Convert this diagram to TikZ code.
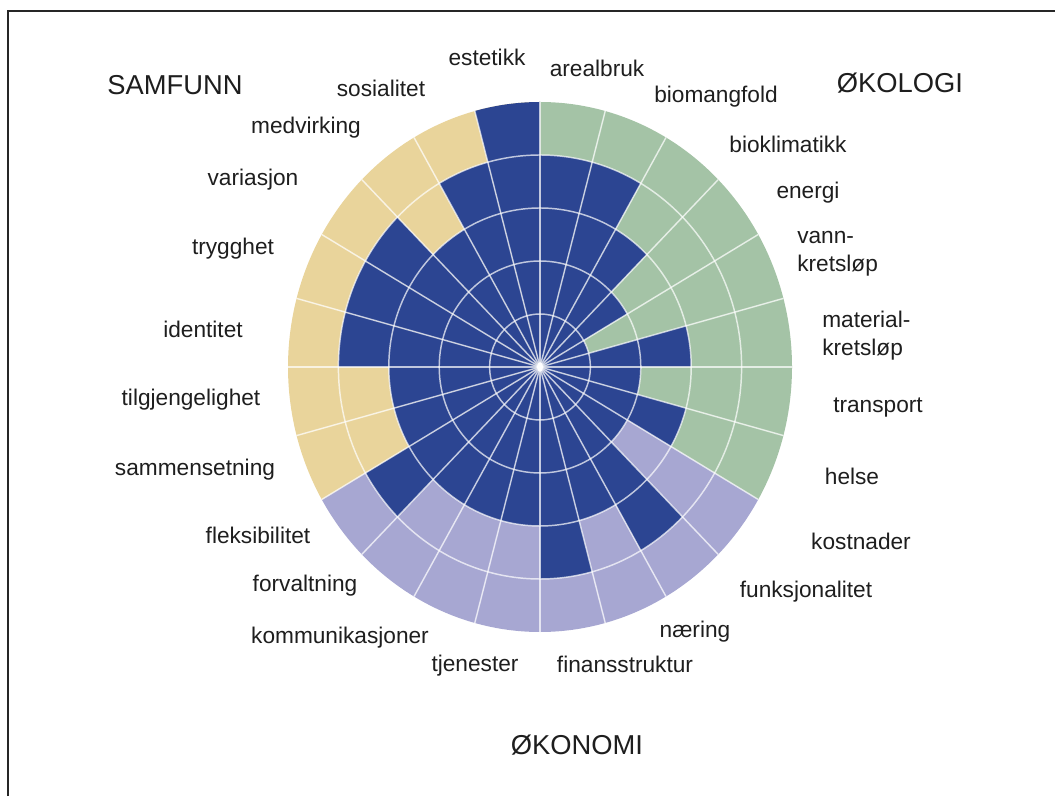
\documentclass[tikz,border=0pt]{standalone}
\usepackage{fontspec}
\setmainfont{Liberation Sans}
\definecolor{navy}{HTML}{2C4592}
\definecolor{sage}{HTML}{A4C3A6}
\definecolor{lav}{HTML}{A7A7D2}
\definecolor{sand}{HTML}{E9D49B}
\definecolor{ink}{HTML}{1E1E1E}
\begin{document}
\begin{tikzpicture}[x=0.75pt,y=0.75pt,
  lbl/.style={font=\fontsize{17}{21}\selectfont, text=ink, inner sep=0pt},
  ttl/.style={font=\fontsize{20.5}{24}\selectfont, text=ink, inner sep=0pt},
  gridline/.style={draw=white, draw opacity=0.7, line width=1.1pt}]
\useasboundingbox (0,0) rectangle (1055,796);
\draw[line width=1.6pt, black!85] (8,0) -- (8,785) -- (1055,785);
\begin{scope}[shift={(540,429)}, xscale=50.4, yscale=53]
  \foreach \lev [count=\k from 0] in {4,4,3,2,1,3,2,3, 2,4,3,4,3,3,3,4, 3,3,4,4,4,3,4,5} {
    \pgfmathsetmacro\aa{90-15*\k}
    \pgfmathsetmacro\ab{75-15*\k}
    \pgfmathtruncatemacro\cat{int(\k/8)}
    \ifcase\cat \def\bg{sage}\or\def\bg{lav}\or\def\bg{sand}\fi
    \fill[\bg] (0,0) -- (\aa:5) arc[start angle=\aa, end angle=\ab, radius=5] -- cycle;
    \fill[navy] (0,0) -- (\aa:\lev) arc[start angle=\aa, end angle=\ab, radius=\lev] -- cycle;
  }
  \foreach \r in {1,2,3,4} \draw[gridline] (0,0) circle[radius=\r];
  \foreach \a in {0,15,...,345} \draw[gridline] (0,0) -- (\a:5);
  \fill[white] (0,0) ellipse[x radius=0.06, y radius=0.09];
\end{scope}
\node[ttl] (samfunn) at (175,711) {SAMFUNN};
\node[ttl] (okologi) at (900,713) {ØKOLOGI};
\node[ttl] (okonomi) at (577,51) {ØKONOMI};
\node[lbl] (estetikk) at (487,739) {estetikk};
\node[lbl] (arealbruk) at (597,728) {arealbruk};
\node[lbl] (biomangfold) at (716,699) {biomangfold};
\node[lbl] (bioklimatikk) at (788,652) {bioklimatikk};
\node[lbl] (energi) at (808,603) {energi};
\node[lbl, anchor=west, align=left] (vann) at (797,542) {vann-\\kretsløp};
\node[lbl, anchor=west, align=left] (material) at (822,460) {material-\\kretsløp};
\node[lbl] (transport) at (878,388) {transport};
\node[lbl] (helse) at (852,320) {helse};
\node[lbl] (kostnader) at (861,255) {kostnader};
\node[lbl] (funksjonalitet) at (806,204) {funksjonalitet};
\node[lbl] (naering) at (695,164) {næring};
\node[lbl] (finans) at (625,132) {finansstruktur};
\node[lbl] (tjenester) at (475,130) {tjenester};
\node[lbl] (kommunikasjoner) at (340,158) {kommunikasjoner};
\node[lbl] (forvaltning) at (305,210) {forvaltning};
\node[lbl] (fleksibilitet) at (258,261) {fleksibilitet};
\node[lbl] (sammensetning) at (195,326) {sammensetning};
\node[lbl] (tilgjengelighet) at (191,396) {tilgjengelighet};
\node[lbl] (identitet) at (203,467) {identitet};
\node[lbl] (trygghet) at (233,547) {trygghet};
\node[lbl] (variasjon) at (253,616) {variasjon};
\node[lbl] (medvirking) at (306,668) {medvirking};
\node[lbl] (sosialitet) at (381,708) {sosialitet};
\end{tikzpicture}
\end{document}
